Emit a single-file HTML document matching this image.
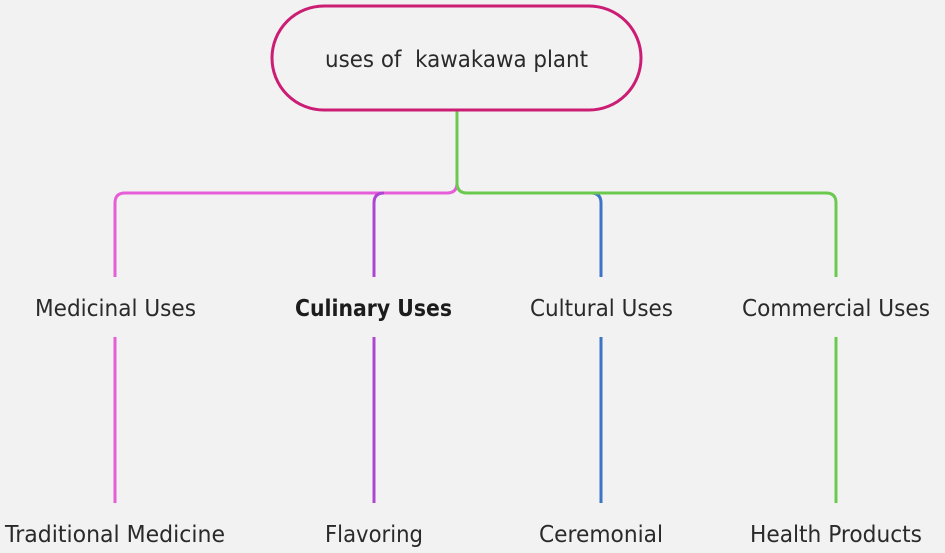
<!DOCTYPE html>
<html lang="en">
<head>
<meta charset="utf-8">
<title>uses of kawakawa plant</title>
<style>
html,body{margin:0;padding:0;width:945px;height:553px;background:#f2f2f2;overflow:hidden}
svg{display:block}
text{font-family:"DejaVu Sans","Liberation Sans",sans-serif;font-size:23.5px;fill:#2a2a2a}
</style>
</head>
<body>
<svg width="945" height="553" viewBox="0 0 945 553" xmlns="http://www.w3.org/2000/svg">
<rect width="945" height="553" fill="#f2f2f2"/>
<g fill="none" stroke-width="3">
<path d="M457 172V183Q457 193 447 193H125Q115 193 115 203V277" stroke="#e65fd8"/>
<path d="M115 337V503" stroke="#e65fd8"/>
<path d="M384 193Q374 193 374 203V277" stroke="#ae45d2"/>
<path d="M374 337V503" stroke="#ae45d2"/>
<path d="M591 193Q601 193 601 203V277" stroke="#3c74c8"/>
<path d="M601 337V503" stroke="#3c74c8"/>
<path d="M457 110V183Q457 193 467 193H826Q836 193 836 203V277" stroke="#6cc950"/>
<path d="M836 337V503" stroke="#6cc950"/>
</g>
<rect x="272" y="6" width="369" height="104" rx="52" ry="52" fill="#f2f2f2" stroke="#cb1d74" stroke-width="3"/>
<text x="325" y="67" textLength="263" lengthAdjust="spacingAndGlyphs" xml:space="preserve">uses of  kawakawa plant</text>
<text x="35" y="316" textLength="161" lengthAdjust="spacingAndGlyphs">Medicinal Uses</text>
<text x="295" y="316" textLength="157" lengthAdjust="spacingAndGlyphs" style="font-weight:700;fill:#1c1c1c">Culinary Uses</text>
<text x="530" y="316" textLength="143" lengthAdjust="spacingAndGlyphs">Cultural Uses</text>
<text x="742" y="316" textLength="188" lengthAdjust="spacingAndGlyphs">Commercial Uses</text>
<text x="5" y="542" textLength="220" lengthAdjust="spacingAndGlyphs">Traditional Medicine</text>
<text x="325" y="542" textLength="98" lengthAdjust="spacingAndGlyphs">Flavoring</text>
<text x="539" y="542" textLength="124" lengthAdjust="spacingAndGlyphs">Ceremonial</text>
<text x="750" y="542" textLength="172" lengthAdjust="spacingAndGlyphs">Health Products</text>
</svg>
</body>
</html>
